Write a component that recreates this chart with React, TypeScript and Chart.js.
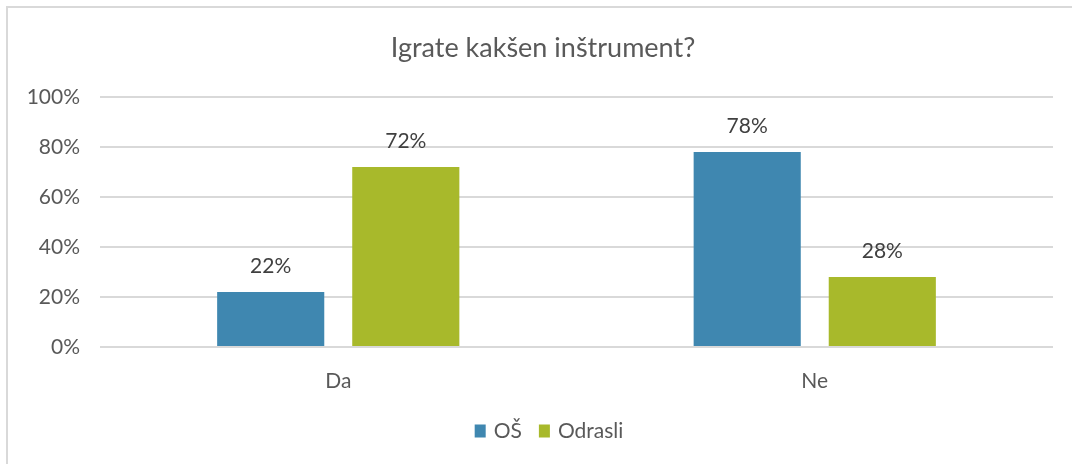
import React, { useEffect, useRef } from "react";
import { Chart, registerables } from "chart.js";

Chart.register(...registerables);

const title = "Igrate kakšen inštrument?";
const categories = ["Da", "Ne"];
const seriesNames = ["OŠ", "Odrasli"];
const osValues = [22, 78];
const odrasliValues = [72, 28];
const yTicks = [0, 20, 40, 60, 80, 100];
const colors = ["#3F87B0", "#A8B92B"];

const FONT = "Lato, 'Open Sans', sans-serif";

const dataLabelPlugin = {
  id: "dataLabels",
  afterDatasetsDraw(chart: any) {
    const ctx = chart.ctx;
    ctx.save();
    ctx.font = `21px ${FONT}`;
    ctx.fillStyle = "#404040";
    ctx.textAlign = "center";
    ctx.textBaseline = "middle";
    chart.data.datasets.forEach((ds: any, i: number) => {
      const meta = chart.getDatasetMeta(i);
      meta.data.forEach((el: any, j: number) => {
        ctx.fillText(`${ds.data[j]}%`, el.x, el.y - 26);
      });
    });
    ctx.restore();
  },
};

const legendPlugin = {
  id: "customLegend",
  afterDraw(chart: any) {
    const ctx = chart.ctx;
    ctx.save();
    ctx.font = `21px ${FONT}`;
    ctx.textBaseline = "middle";
    ctx.textAlign = "left";
    const box = 11;
    const gap = 8;
    const itemGap = 17;
    const items = chart.data.datasets.map((ds: any) => ({
      label: ds.label,
      color: ds.backgroundColor,
      w: ctx.measureText(ds.label).width,
    }));
    const total =
      items.reduce((s: number, it: any) => s + box + gap + it.w, 0) +
      itemGap * (items.length - 1);
    let x = 549 - total / 2;
    const cy = 431;
    items.forEach((it: any) => {
      ctx.fillStyle = it.color;
      ctx.fillRect(x, cy - box / 2 - 1, box, box + 2);
      x += box + gap;
      ctx.fillStyle = "#595959";
      ctx.fillText(it.label, x, cy);
      x += it.w + itemGap;
    });
    ctx.restore();
  },
};

export default function App() {
  const ref = useRef<HTMLCanvasElement>(null);
  useEffect(() => {
    if (!ref.current) return;
    const chart = new Chart(ref.current, {
      type: "bar",
      data: {
        labels: categories,
        datasets: [
          {
            label: seriesNames[0],
            data: osValues,
            backgroundColor: colors[0],
            categoryPercentage: 0.567,
            barPercentage: 0.793,
          },
          {
            label: seriesNames[1],
            data: odrasliValues,
            backgroundColor: colors[1],
            categoryPercentage: 0.567,
            barPercentage: 0.793,
          },
        ],
      },
      options: {
        responsive: false,
        animation: false,
        layout: { padding: { left: 33, right: 37, top: 0, bottom: 0 } },
        plugins: {
          legend: { display: false },
          tooltip: { enabled: false },
          title: {
            display: true,
            text: title,
            color: "#595959",
            font: { family: FONT, size: 27, weight: "normal" },
            padding: { top: 32, bottom: 32.6 },
          },
        },
        scales: {
          x: {
            grid: { display: false, drawTicks: false },
            border: { display: false },
            ticks: {
              color: "#595959",
              font: { family: FONT, size: 21 },
              padding: 22,
            },
            afterFit(scale: any) {
              scale.height = 117;
            },
          },
          y: {
            min: 0,
            max: 100,
            afterBuildTicks(scale: any) {
              scale.ticks = yTicks.map((v) => ({ value: v }));
            },
            grid: { color: "#d9d9d9", lineWidth: 2, drawTicks: false },
            border: { display: false },
            ticks: {
              color: "#595959",
              font: { family: FONT, size: 21 },
              padding: 20,
              callback: (v: any) => `${v}%`,
            },
            afterFit(scale: any) {
              scale.width = 67;
              scale._computeLabelArea = () => undefined;
            },
          },
        },
      },
      plugins: [dataLabelPlugin, legendPlugin],
    });
    return () => chart.destroy();
  }, []);
  return (
    <div
      style={{
        position: "fixed",
        left: 0,
        top: 0,
        width: 1072,
        height: 464,
        overflow: "hidden",
        background: "#fff",
      }}
    >
      <div
        style={{
          position: "absolute",
          left: 6,
          top: 6,
          width: 1200,
          height: 600,
          borderLeft: "2px solid #d9d9d9",
          borderTop: "2px solid #d9d9d9",
        }}
      />
      <canvas
        ref={ref}
        width={1090}
        height={464}
        style={{ position: "absolute", left: 0, top: 0, width: 1090, height: 464 }}
      />
    </div>
  );
}
